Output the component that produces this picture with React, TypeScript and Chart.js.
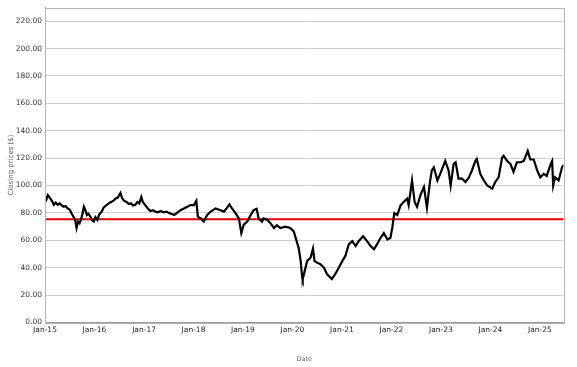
import React, { useEffect, useRef } from "react";
import { Chart, registerables } from "chart.js";

Chart.register(...registerables);

const dates: string[] = [
  "2015-01-02","2015-01-12","2015-01-22","2015-02-06","2015-02-20","2015-03-07","2015-03-21","2015-04-05","2015-04-20","2015-05-04",
  "2015-05-19","2015-06-02","2015-06-17","2015-07-02","2015-07-16","2015-07-31","2015-08-11","2015-08-22","2015-09-02","2015-09-13",
  "2015-09-23","2015-10-04","2015-10-15","2015-10-26","2015-11-06","2015-11-17","2015-12-02","2015-12-16","2015-12-27","2016-01-08",
  "2016-01-22","2016-02-06","2016-02-24","2016-03-09","2016-03-28","2016-04-15","2016-05-03","2016-05-21","2016-06-05","2016-06-20",
  "2016-07-01","2016-07-11","2016-07-22","2016-08-06","2016-08-24","2016-09-12","2016-09-26","2016-10-11","2016-10-29","2016-11-13",
  "2016-11-27","2016-12-12","2016-12-23","2017-01-11","2017-01-29","2017-02-16","2017-03-07","2017-03-25","2017-04-12","2017-05-04",
  "2017-05-26","2017-06-17","2017-07-09","2017-07-31","2017-08-11","2017-09-02","2017-09-27","2017-11-03","2017-12-09","2018-01-04",
  "2018-01-22","2018-02-02","2018-02-24","2018-03-18","2018-04-12","2018-05-08","2018-06-13","2018-07-20","2018-08-14","2018-09-02",
  "2018-09-23","2018-10-12","2018-11-06","2018-12-02","2018-12-20","2019-01-07","2019-02-02","2019-02-27","2019-03-21","2019-04-12",
  "2019-04-27","2019-05-22","2019-06-02","2019-06-28","2019-07-23","2019-08-18","2019-09-09","2019-10-04","2019-11-10","2019-12-16",
  "2020-01-11","2020-01-29","2020-02-16","2020-03-02","2020-03-13","2020-03-17","2020-04-19","2020-05-14","2020-06-01","2020-06-12",
  "2020-07-01","2020-07-26","2020-08-21","2020-09-12","2020-10-18","2020-11-13","2020-12-08","2021-01-04","2021-01-26","2021-02-20",
  "2021-03-18","2021-04-12","2021-05-04","2021-06-06","2021-07-05","2021-07-31","2021-08-25","2021-09-16","2021-10-12","2021-11-06",
  "2021-12-02","2021-12-24","2022-01-07","2022-01-22","2022-02-13","2022-03-10","2022-04-01","2022-04-27","2022-05-08","2022-06-02",
  "2022-06-21","2022-07-09","2022-08-03","2022-08-29","2022-09-20","2022-10-12","2022-10-26","2022-11-10","2022-12-06","2022-12-27",
  "2023-02-02","2023-02-27","2023-03-14","2023-04-05","2023-04-20","2023-05-11","2023-06-06","2023-07-02","2023-07-27","2023-08-18",
  "2023-09-13","2023-09-23","2023-10-19","2023-11-14","2023-12-09","2024-01-15","2024-02-06","2024-03-02","2024-03-28","2024-04-08",
  "2024-05-03","2024-05-29","2024-06-20","2024-07-15","2024-08-13","2024-09-04","2024-10-03","2024-10-22","2024-11-16","2024-12-12",
  "2025-01-04","2025-01-29","2025-02-20","2025-03-21","2025-04-01","2025-04-09","2025-04-23","2025-05-19","2025-06-13","2025-06-24"
];

const closes: number[] = [
  92,90,93,91,89,86,87.5,86,87,85.5,
  84.5,85,83.3,82.5,79.7,77,75,69,73.7,72.5,
  75,79,84.5,82,78.5,79.5,77.3,74.5,73.7,77,
  75,79,81,84,85.5,87,88,89,90.5,91,
  93,94.6,91,89,88,86.5,87,85.5,86,88,
  87,91.7,88,85.5,83.3,81.4,82,81,80.5,81.4,
  80.4,81,79.7,79,78.5,80,82,83.8,85.7,85.7,
  88.8,77.3,76,73.7,78.5,81,83.3,82,81,83.3,
  86.2,83.3,80,76,65.3,71.4,73.7,78.5,82,83,
  76,73.7,76,75,72.5,69,71,69,70,69,
  66.5,60.5,54.5,45,33,31.5,45,47.3,54,45,
  43.7,42.6,40,35.4,31.8,35.4,40,45,48.6,57,
  59.4,55.8,59.4,63,59.4,55.8,53.4,57,61.7,65.3,
  60.6,61.7,69,79.7,78.5,85.7,88,90.5,85.7,103.7,
  88,84.5,93,99,83.8,102.5,111,113.3,103.7,108.5,
  118,111,100,115.7,117,105,105,102.5,106,111,
  118,119.3,108.5,103.7,100,97.7,102.5,106,120.5,121.7,
  118,115.7,110,117,117,118,125.3,119,119,111,
  106,108.5,107,115.7,118,100,106,103.7,113.3,115
];

const referenceLevel = 75.4;
const yTickValues: number[] = [0, 20, 40, 60, 80, 100, 120, 140, 160, 180, 200, 220];
const xTickYears: number[] = [2015, 2016, 2017, 2018, 2019, 2020, 2021, 2022, 2023, 2024, 2025];
const xTitle = "Date";
const yTitle = "Closing prices ($)";

const FONT = "'DejaVu Sans', Verdana, sans-serif";

export default function App() {
  const ref = useRef<HTMLCanvasElement | null>(null);

  useEffect(() => {
    if (!ref.current) return;
    const xMin = Date.UTC(2015, 0, 1);
    const xMax = Date.parse(dates[dates.length - 1]);
    const points = dates.map((d, i) => ({ x: Date.parse(d), y: closes[i] }));

    const framePlugin = {
      id: "frame",
      afterDraw(chart: any) {
        const { ctx, chartArea } = chart;
        ctx.save();
        ctx.strokeStyle = "#b4b4b4";
        ctx.lineWidth = 1;
        ctx.strokeRect(
          Math.round(chartArea.left) + 0.5,
          Math.round(chartArea.top) + 0.5,
          Math.round(chartArea.right - chartArea.left),
          Math.round(chartArea.bottom - chartArea.top)
        );
        ctx.restore();
      },
    };

    const chart = new Chart(ref.current, {
      type: "line",
      data: {
        datasets: [
          {
            data: [
              { x: xMin, y: referenceLevel },
              { x: xMax, y: referenceLevel },
            ],
            borderColor: "#e60000",
            borderWidth: 2,
            pointRadius: 0,
            order: 2,
          },
          {
            data: points,
            borderColor: "#000000",
            borderWidth: 2.2,
            pointRadius: 0,
            tension: 0,
            order: 1,
          },
        ],
      },
      plugins: [framePlugin],
      options: {
        responsive: false,
        animation: false,
        layout: { padding: { top: 3, right: 13.5, left: 0, bottom: 0 } },
        plugins: {
          legend: { display: false },
          tooltip: { enabled: false },
        },
        scales: {
          x: {
            type: "linear",
            min: xMin,
            max: xMax,
            afterBuildTicks(scale: any) {
              scale.ticks = xTickYears.map((y) => ({ value: Date.UTC(y, 0, 1) }));
            },
            afterFit(scale: any) {
              scale.height = 44.5;
            },
            grid: { display: false, drawTicks: false },
            border: { display: true, color: "#9a9a9a" },
            ticks: {
              padding: 3,
              maxRotation: 0,
              autoSkip: false,
              color: "#222",
              font: { family: FONT, size: 7.5 },
              callback(value: any) {
                const yr = new Date(Number(value)).getUTCFullYear();
                return "Jan-" + String(yr % 100).padStart(2, "0");
              },
            },
            title: {
              display: true,
              text: xTitle,
              color: "#666",
              font: { family: FONT, size: 6.5 },
              padding: { top: 0, bottom: 4 },
            },
          },
          y: {
            type: "linear",
            min: 0,
            max: 230,
            afterBuildTicks(scale: any) {
              scale.ticks = yTickValues.map((v) => ({ value: v }));
            },
            afterFit(scale: any) {
              scale.width = 45;
            },
            grid: { color: "#cdcdcd", lineWidth: 1, drawTicks: false },
            border: { display: true, color: "#9a9a9a" },
            ticks: {
              padding: 3,
              color: "#333",
              font: { family: FONT, size: 7.5 },
              callback(value: any) {
                return Number(value).toFixed(2);
              },
            },
            title: {
              display: true,
              text: yTitle,
              color: "#555",
              font: { family: FONT, size: 7 },
              padding: { top: 7, bottom: 0 },
            },
          },
        },
      },
    } as any);

    return () => chart.destroy();
  }, []);

  return (
    <div style={{ position: "fixed", left: 0, top: 0, width: 577, height: 367, background: "#fff" }}>
      <canvas ref={ref} width={577} height={367} style={{ display: "block" }} />
    </div>
  );
}
